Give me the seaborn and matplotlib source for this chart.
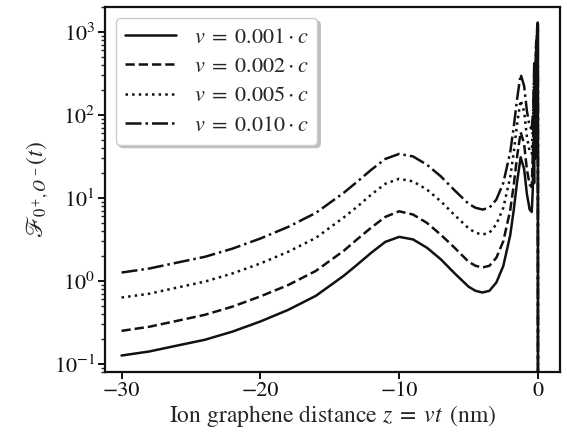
import numpy as np
import pandas as pd
import seaborn as sns
import matplotlib.pyplot as plt

# Values (y on a log axis)
x_far = [-30, -28, -26, -24, -22, -20, -18, -16, -14, -13, -12, -11, -10, -9, -8,
         -7, -6, -5, -4.5, -4, -3.5, -3, -2.5, -2, -1.75, -1.5, -1.25, -1.0, -0.8,
         -0.6, -0.45]

y_far_001 = [0.126, 0.141, 0.166, 0.195, 0.245, 0.324, 0.447, 0.661, 1.15, 1.58, 2.19,
             2.95, 3.39, 3.16, 2.51, 1.82, 1.23, 0.851, 0.759, 0.724, 0.759, 0.955, 1.51,
             3.55, 7.08, 15.8, 30.9, 22.4, 11.2, 7.24, 6.76]
y_far_002 = [0.25, 0.28, 0.33, 0.39, 0.49, 0.65, 0.89, 1.32, 2.3, 3.2, 4.4,
             5.9, 6.9, 6.3, 5.0, 3.6, 2.5, 1.7, 1.52, 1.45, 1.52, 1.9, 3.0,
             7.1, 14.2, 32, 62, 45, 22, 14.5, 13.5]
y_far_005 = [0.63, 0.70, 0.83, 0.98, 1.23, 1.62, 2.24, 3.3, 5.8, 7.9, 11,
             14.8, 17.0, 15.8, 12.6, 9.1, 6.2, 4.3, 3.8, 3.62, 3.8, 4.8, 7.6,
             17.8, 35, 79, 150, 110, 55, 36, 34]
y_far_010 = [1.26, 1.41, 1.66, 1.95, 2.45, 3.24, 4.47, 6.6, 11.5, 15.8, 21.9,
             29.5, 33.9, 31.6, 25.1, 18.2, 12.3, 8.5, 7.6, 7.24, 7.6, 9.55, 15.1,
             35.5, 70.8, 158, 309, 224, 112, 72, 68]

# rapid oscillations right before the ion reaches the sheet
x_tail_001 = [-0.38, -0.32, -0.28, -0.24, -0.2, -0.17, -0.14, -0.11, -0.09, -0.07,
              -0.05, -0.035, -0.02, -0.01, -0.004, 0.0]
y_tail_001 = [12, 45, 15, 120, 30, 300, 60, 600, 120, 900, 200, 1100, 300, 1200, 20, 0.01]
x_tail_002 = [-0.36, -0.29, -0.23, -0.18, -0.14, -0.1, -0.07, -0.045, -0.025, -0.01, 0.0]
y_tail_002 = [40, 160, 50, 400, 120, 800, 250, 1150, 300, 1250, 0.01]
x_tail_005 = [-0.36, -0.28, -0.21, -0.15, -0.1, -0.065, -0.04, -0.02, -0.008, 0.0]
y_tail_005 = [80, 280, 100, 600, 220, 1000, 350, 1200, 200, 0.01]
x_tail_010 = [-0.35, -0.27, -0.2, -0.14, -0.09, -0.06, -0.035, -0.015, -0.005, 0.0]
y_tail_010 = [110, 420, 160, 750, 280, 1100, 400, 1300, 150, 0.01]

labels = [r'$v\;=\;0.001\cdot c$', r'$v\;=\;0.002\cdot c$',
          r'$v\;=\;0.005\cdot c$', r'$v\;=\;0.010\cdot c$']

curves = [
    (x_far + x_tail_001, y_far_001 + y_tail_001),
    (x_far + x_tail_002, y_far_002 + y_tail_002),
    (x_far + x_tail_005, y_far_005 + y_tail_005),
    (x_far + x_tail_010, y_far_010 + y_tail_010),
]
styles = ['-', '--', ':', '-.']

sns.set_theme(style="ticks")
plt.rcParams['font.family'] = ['STIXGeneral', 'DejaVu Serif']
plt.rcParams['mathtext.fontset'] = 'stix'
plt.rcParams['font.size'] = 16

fig = plt.figure(figsize=(5.67, 4.37), dpi=100)
ax = fig.add_axes([0.185, 0.149, 0.803, 0.835])

for (xs, ys), ls, lab in zip(curves, styles, labels):
    df = pd.DataFrame({'z': xs, 'F': ys})
    sns.lineplot(data=df, x='z', y='F', ax=ax, color='#111111', linestyle=ls,
                 linewidth=1.8, label=lab, estimator=None, sort=False)

ax.set_yscale('log')
ax.set_xlim(-31.2, 1.6)
ax.set_ylim(0.08, 2000)
ax.set_xticks([-30, -20, -10, 0])
ax.set_xlabel(r'Ion graphene distance $z\;=\;vt\,$ (nm)', fontsize=17, labelpad=1)
ax.set_ylabel(r'$\mathscr{F}_{0^+\!,O^-}(t)$', fontsize=17, labelpad=2)

for sp in ax.spines.values():
    sp.set_linewidth(1.6)
    sp.set_color('#111111')
ax.tick_params(axis='both', which='major', direction='out', length=5, width=1.4,
               labelsize=16, colors='#111111', pad=2)
ax.tick_params(axis='y', which='minor', direction='out', length=3, width=1.0)

ax.legend(loc='upper left', fontsize=16, handlelength=2.3, fancybox=True,
          framealpha=1, edgecolor='0.8', shadow={'color': '0.75', 'alpha': 1.0},
          borderaxespad=0.5, labelspacing=0.4, handletextpad=0.8)

fig.savefig('out.png', dpi=100)
